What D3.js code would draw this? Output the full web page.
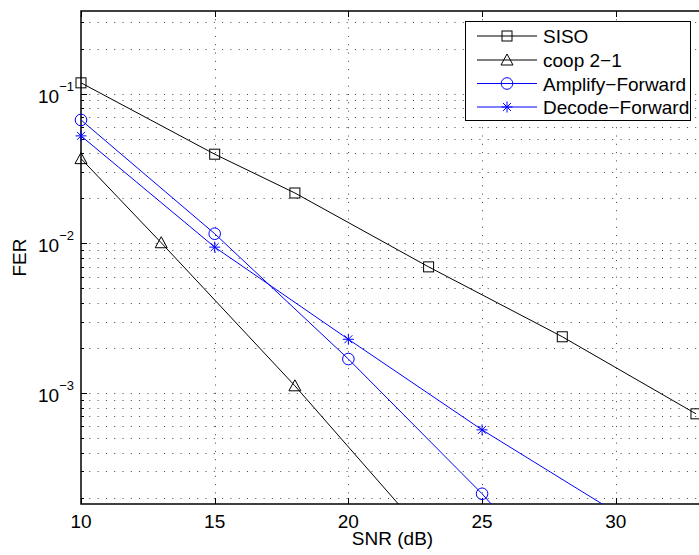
<!DOCTYPE html>
<html>
<head>
<meta charset="utf-8">
<script src="https://cdn.jsdelivr.net/npm/d3@7"></script>
<style>
  html, body { margin: 0; padding: 0; background: #fff; }
  svg { display: block; font-family: "Liberation Sans", Arial, Helvetica, sans-serif; }
</style>
</head>
<body>
<svg id="chart" width="699" height="555"></svg>
<script>
// ---- data ----
const snrSISO = [10, 15, 18, 23, 28, 33];
const ferSISO = [0.118, 0.0394, 0.0217, 0.00697, 0.00238, 0.000728];
const snrCoop = [10, 13, 18, 23];
const ferCoop = [0.0368, 0.0101, 0.00112, 0.000107];
const snrAF = [10, 15, 20, 25, 30];
const ferAF = [0.0667, 0.0116, 0.00169, 0.000213, 0.000021];
const snrDF = [10, 15, 20, 25, 30];
const ferDF = [0.0522, 0.00944, 0.00229, 0.000569, 0.00016];
const xTicks = [10, 15, 20, 25, 30];
const yMajorExps = [-1, -2, -3];
const seriesNames = ["SISO", "coop 2\u22121", "Amplify\u2212Forward", "Decode\u2212Forward"];
const xLabel = "SNR (dB)";
const yLabel = "FER";

(function () {
// ---- layout ----
const pL = 81, pR = 704, pT = 11, pB = 504;
const svg = d3.select("#chart");
const x = d3.scaleLinear().domain([10, 33.3]).range([pL, pR]);
const y = d3.scaleLog().domain([1.82e-4, 0.356]).range([pB, pT]);

const series = [
  { name: seriesNames[0], xs: snrSISO, ys: ferSISO, color: "#000", marker: "square" },
  { name: seriesNames[1], xs: snrCoop, ys: ferCoop, color: "#000", marker: "triangle" },
  { name: seriesNames[2], xs: snrAF, ys: ferAF, color: "#0000ff", marker: "circle" },
  { name: seriesNames[3], xs: snrDF, ys: ferDF, color: "#0000ff", marker: "star" }
];

svg.append("defs").append("clipPath").attr("id", "plotclip")
  .append("rect").attr("x", pL).attr("y", pT).attr("width", pR - pL).attr("height", pB - pT);

// ---- grid ----
const yGridVals = [];
const [y0, y1] = y.domain();
for (let e = -4; e <= 0; e++) {
  for (let k = 1; k <= 9; k++) {
    const v = k * Math.pow(10, e);
    if (v >= y0 && v <= y1) yGridVals.push({ v, major: k === 1 });
  }
}
const grid = svg.append("g").attr("stroke", "#444").attr("stroke-width", 1)
  .attr("stroke-dasharray", "1,7.3");
grid.selectAll("line.h").data(yGridVals).join("line")
  .attr("x1", pL).attr("x2", pR)
  .attr("y1", d => Math.round(y(d.v)) + 0.5).attr("y2", d => Math.round(y(d.v)) + 0.5);
grid.selectAll("line.v").data(xTicks.filter(t => t > 10)).join("line")
  .attr("x1", d => Math.round(x(d)) + 0.5).attr("x2", d => Math.round(x(d)) + 0.5)
  .attr("y1", pT).attr("y2", pB);

// ---- ticks ----
const ticks = svg.append("g").attr("stroke", "#000").attr("stroke-width", 1);
ticks.selectAll("line.yt").data(yGridVals).join("line")
  .attr("x1", pL).attr("x2", d => pL + (d.major ? 6 : 3))
  .attr("y1", d => Math.round(y(d.v)) + 0.5).attr("y2", d => Math.round(y(d.v)) + 0.5);
ticks.selectAll("line.xb").data(xTicks).join("line")
  .attr("x1", d => Math.round(x(d)) + 0.5).attr("x2", d => Math.round(x(d)) + 0.5)
  .attr("y1", pB).attr("y2", pB - 6);
ticks.selectAll("line.xt").data(xTicks).join("line")
  .attr("x1", d => Math.round(x(d)) + 0.5).attr("x2", d => Math.round(x(d)) + 0.5)
  .attr("y1", pT).attr("y2", pT + 6);

// ---- axes box ----
svg.append("path")
  .attr("d", `M${pR},${pT}H${pL}V${pB}H${pR}`)
  .attr("fill", "none").attr("stroke", "#000").attr("stroke-width", 1.5);

// ---- tick labels ----
svg.append("g").selectAll("text").data(xTicks).join("text")
  .attr("x", d => x(d)).attr("y", 527.5)
  .attr("text-anchor", "middle").attr("font-size", 19).text(d => d);

const yl = svg.append("g").selectAll("text").data(yMajorExps).join("text")
  .attr("x", 74).attr("y", d => y(Math.pow(10, d)) + 9)
  .attr("text-anchor", "end").attr("font-size", 19);
yl.append("tspan").text("10");
yl.append("tspan").attr("font-size", 13).attr("dy", -12).text(d => "\u2212" + (-d));

// ---- axis labels ----
svg.append("text").attr("x", (pL + pR) / 2).attr("y", 545)
  .attr("text-anchor", "middle").attr("font-size", 19).text(xLabel);
svg.append("text").attr("transform", `translate(26,${(pT + pB) / 2}) rotate(-90)`)
  .attr("text-anchor", "middle").attr("font-size", 19).text(yLabel);

// ---- markers ----
function drawMarker(g, type, cx, cy, color) {
  if (type === "square") {
    g.append("rect").attr("x", cx - 5).attr("y", cy - 5).attr("width", 10).attr("height", 10)
      .attr("fill", "none").attr("stroke", color).attr("stroke-width", 1);
  } else if (type === "triangle") {
    g.append("path").attr("d", `M${cx},${cy - 6}L${cx + 6},${cy + 5}L${cx - 6},${cy + 5}Z`)
      .attr("fill", "none").attr("stroke", color).attr("stroke-width", 1);
  } else if (type === "circle") {
    g.append("circle").attr("cx", cx).attr("cy", cy).attr("r", 5.8)
      .attr("fill", "none").attr("stroke", color).attr("stroke-width", 1);
  } else if (type === "star") {
    const r = 5.5, d = r * 0.72;
    g.append("path")
      .attr("d", `M${cx - r},${cy}H${cx + r}M${cx},${cy - r}V${cy + r}M${cx - d},${cy - d}L${cx + d},${cy + d}M${cx - d},${cy + d}L${cx + d},${cy - d}`)
      .attr("fill", "none").attr("stroke", color).attr("stroke-width", 1);
  }
}

const line = d3.line().x(d => x(d[0])).y(d => y(d[1]));
const dataG = svg.append("g");
series.forEach(s => {
  const pts = s.xs.map((v, i) => [v, s.ys[i]]);
  dataG.append("path").datum(pts).attr("d", line)
    .attr("clip-path", "url(#plotclip)")
    .attr("fill", "none").attr("stroke", s.color).attr("stroke-width", 1);
  const mg = dataG.append("g");
  pts.filter(p => p[1] >= y0 && p[1] <= y1).forEach(p => drawMarker(mg, s.marker, x(p[0]), y(p[1]), s.color));
});

// ---- legend ----
const lg = svg.append("g");
lg.append("rect").attr("x", 465.5).attr("y", 21.5).attr("width", 225).attr("height", 99)
  .attr("fill", "#fff").attr("stroke", "#000").attr("stroke-width", 1);
const rowY = [36, 60, 83.5, 107];
series.forEach((s, i) => {
  const yy = rowY[i];
  lg.append("line").attr("x1", 477).attr("x2", 537).attr("y1", yy).attr("y2", yy)
    .attr("stroke", s.color).attr("stroke-width", 1);
  drawMarker(lg, s.marker, 507, yy, s.color);
  lg.append("text").attr("x", 543).attr("y", yy + 7).attr("font-size", 19).text(s.name);
});
})();
</script>
</body>
</html>
